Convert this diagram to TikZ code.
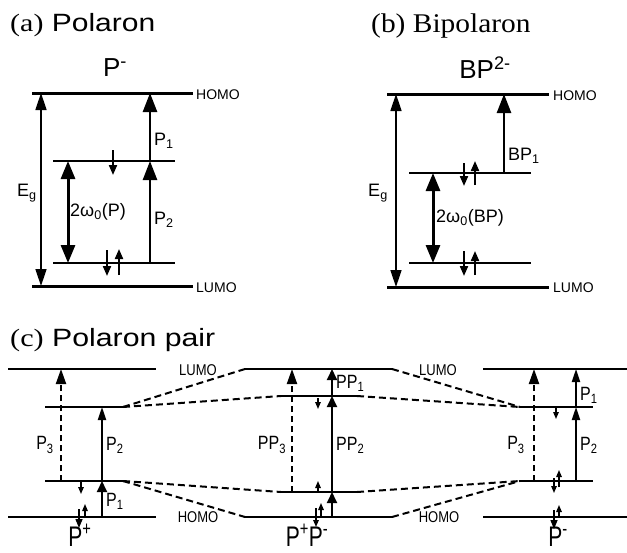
\documentclass[tikz,border=0pt]{standalone}
\usepackage{graphicx}
\usepackage{fontspec}
\setmainfont{Liberation Sans}
\newfontfamily\serifpart{Liberation Serif}
\usetikzlibrary{arrows.meta}
\newcommand\myhs[2]{\scalebox{#1}[1]{#2}}
\newcommand\myvs[2]{\scalebox{1}[#1]{#2}}
\begin{document}
\begin{tikzpicture}[x=1pt,y=-1pt,
 lvlA/.style={line width=3pt},
 lvlB/.style={line width=2pt},
 lvlC/.style={line width=2pt},
 egarrow/.style={line width=1.5pt,{Triangle[length=17pt,width=11pt]}-{Triangle[length=17pt,width=11pt]}},
 omarrow/.style={line width=3pt,{Triangle[length=18pt,width=14pt]}-{Triangle[length=18pt,width=14pt]}},
 parrow/.style={line width=2.5pt,-{Triangle[length=19pt,width=14pt]}},
 spin/.style={line width=2pt,-{Triangle[length=10pt,width=8pt]}},
 cspin/.style={line width=1.4pt,-{Triangle[length=7pt,width=5.5pt]}},
 carrow/.style={line width=2pt,-{Triangle[length=13pt,width=8pt]}},
 carrowS/.style={line width=2pt,-{Triangle[length=11pt,width=10pt]}},
 cdash/.style={line width=2pt,dash pattern=on 6pt off 4pt,-{Triangle[length=15pt,width=10pt]}},
 conn/.style={line width=2pt,dash pattern=on 7pt off 4pt},
 title/.style={font=\fontsize{25}{28}\selectfont, inner sep=0pt},
 state/.style={font=\fontsize{26}{28}\selectfont, inner sep=0pt, text depth=0pt},
 cstate/.style={font=\fontsize{21}{24}\selectfont, inner sep=0pt, text depth=0pt},
 lbl/.style={font=\fontsize{18}{20}\selectfont, inner sep=0pt},
 clbl/.style={font=\fontsize{16}{18}\selectfont, inner sep=0pt},
 orb/.style={font=\fontsize{14}{16}\selectfont, inner sep=0pt},
 corb/.style={font=\fontsize{13}{15}\selectfont, inner sep=0pt},
]
\useasboundingbox[fill=white] (0,0) rectangle (627,552);

% ---------------- (a) Polaron ----------------
\node[title,anchor=base west] (ta) at (10,31) {\myhs{1.2}{{\serifpart (a)} Polaron}};
\node[state] (sa) at (115,68) {P\textsuperscript{-}};
\coordinate (aH1) at (32,93);  \coordinate (aH2) at (193,93);
\coordinate (aL1) at (32,286); \coordinate (aL2) at (193,286);
\coordinate (aU1) at (53,161); \coordinate (aU2) at (175,161);
\coordinate (aD1) at (53,263); \coordinate (aD2) at (175,263);
\draw[lvlA] (aH1) -- (aH2);
\draw[lvlA] (aL1) -- (aL2);
\draw[lvlB] (aU1) -- (aU2);
\draw[lvlB,line width=2.5pt] (aD1) -- (aD2);
\node[orb,anchor=west] (aHl) at (196,95) {HOMO};
\node[orb,anchor=west] (aLl) at (196,288) {LUMO};
\coordinate (aEgB) at (41,286); \coordinate (aEgT) at (41,93);
\draw[egarrow] (aEgB) -- (aEgT);
\node[lbl] (aEg) at (27,193) {E\textsubscript{g}};
\coordinate (aOB) at (68,263); \coordinate (aOT) at (68,161);
\draw[omarrow] (aOB) -- (aOT);
\node[lbl,anchor=west] (aOl) at (70,212) {2ω\textsubscript{0}(P)};
\coordinate (aPB) at (150,263); \coordinate (aPM) at (150,161); \coordinate (aPT) at (150,93);
\draw[parrow] (aPB) -- (aPM);
\draw[parrow] (aPM) -- (aPT);
\node[lbl,anchor=west] (aP1) at (154,141) {P\textsubscript{1}};
\node[lbl,anchor=west] (aP2) at (154,220) {P\textsubscript{2}};
\coordinate (as1a) at (113,150); \coordinate (as1b) at (113,175);
\draw[spin] (as1a) -- (as1b);
\coordinate (as2a) at (107,250); \coordinate (as2b) at (107,276);
\draw[spin] (as2a) -- (as2b);
\coordinate (as3a) at (119,275); \coordinate (as3b) at (119,249);
\draw[spin] (as3a) -- (as3b);

% ---------------- (b) Bipolaron ----------------
\node[title,anchor=base west,font=\serifpart\fontsize{27}{30}\selectfont] (tb) at (371,32) {\myhs{1.09}{(b) Bipolaron}};
\node[state] (sb) at (485,68) {BP\textsuperscript{2-}};
\coordinate (bH1) at (387,94);  \coordinate (bH2) at (549,94);
\coordinate (bL1) at (387,287); \coordinate (bL2) at (549,287);
\coordinate (bU1) at (409,173); \coordinate (bU2) at (531,173);
\coordinate (bD1) at (409,263); \coordinate (bD2) at (531,263);
\draw[lvlA] (bH1) -- (bH2);
\draw[lvlA] (bL1) -- (bL2);
\draw[lvlB] (bU1) -- (bU2);
\draw[lvlB,line width=2.5pt] (bD1) -- (bD2);
\node[orb,anchor=west] (bHl) at (553,96) {HOMO};
\node[orb,anchor=west] (bLl) at (553,288) {LUMO};
\coordinate (bEgB) at (396,287); \coordinate (bEgT) at (396,94);
\draw[egarrow] (bEgB) -- (bEgT);
\node[lbl] (bEg) at (378,193) {E\textsubscript{g}};
\coordinate (bOB) at (433,263); \coordinate (bOT) at (433,173);
\draw[omarrow] (bOB) -- (bOT);
\node[lbl,anchor=west] (bOl) at (436,218) {2ω\textsubscript{0}(BP)};
\coordinate (bPB) at (504,173); \coordinate (bPT) at (504,94);
\draw[parrow] (bPB) -- (bPT);
\node[lbl,anchor=west] (bP1) at (508,156) {BP\textsubscript{1}};
\coordinate (bs1a) at (464,163); \coordinate (bs1b) at (464,186);
\draw[spin] (bs1a) -- (bs1b);
\coordinate (bs2a) at (475,185); \coordinate (bs2b) at (475,161);
\draw[spin] (bs2a) -- (bs2b);
\coordinate (bs3a) at (464,251); \coordinate (bs3b) at (464,276);
\draw[spin] (bs3a) -- (bs3b);
\coordinate (bs4a) at (475,275); \coordinate (bs4b) at (475,251);
\draw[spin] (bs4a) -- (bs4b);

% ---------------- (c) Polaron pair ----------------
\node[title,anchor=base west] (tc) at (10,346) {\myhs{1.21}{{\serifpart (c)} Polaron pair}};

% left column P+
\coordinate (lT1) at (8,369);   \coordinate (lT2) at (156,369);
\coordinate (lB1) at (8,517);   \coordinate (lB2) at (156,517);
\coordinate (lU1) at (45,407);  \coordinate (lU2) at (123,407);
\coordinate (lD1) at (45,481);  \coordinate (lD2) at (123,481);
\draw[lvlC,line width=2.5pt] (lT1) -- (lT2);
\draw[lvlC,line width=2.5pt] (lB1) -- (lB2);
\draw[lvlC] (lU1) -- (lU2);
\draw[lvlC] (lD1) -- (lD2);
\coordinate (l3B) at (61,481); \coordinate (l3T) at (61,369);
\draw[cdash] (l3B) -- (l3T);
\coordinate (l2B) at (102,481); \coordinate (l2T) at (102,407);
\draw[carrow] (l2B) -- (l2T);
\coordinate (l1B) at (102,517); \coordinate (l1T) at (102,481);
\draw[carrowS] (l1B) -- (l1T);
\node[clbl] (lP3) at (45,445) {\myvs{1.2}{P\textsubscript{3}}};
\node[clbl,anchor=west] (lP2) at (106,445) {\myvs{1.2}{P\textsubscript{2}}};
\node[clbl,anchor=west] (lP1) at (106,501) {\myvs{1.2}{P\textsubscript{1}}};
\coordinate (ls1a) at (81,482); \coordinate (ls1b) at (81,494);
\draw[cspin] (ls1a) -- (ls1b);
\coordinate (ls2a) at (79,509); \coordinate (ls2b) at (79,528);
\draw[cspin,-{Triangle[length=9pt,width=7pt]}] (ls2a) -- (ls2b);
\coordinate (ls3a) at (85,518); \coordinate (ls3b) at (85,504);
\draw[cspin] (ls3a) -- (ls3b);
\node[cstate,anchor=base] (sl) at (80,546) {\myvs{1.35}{P\textsuperscript{+}}};

% middle column P+P-
\coordinate (mT1) at (245,369); \coordinate (mT2) at (392,369);
\coordinate (mB1) at (245,517); \coordinate (mB2) at (392,517);
\coordinate (mU1) at (281,396); \coordinate (mU2) at (357,396);
\coordinate (mD1) at (281,492); \coordinate (mD2) at (357,492);
\draw[lvlC,line width=2.5pt] (mT1) -- (mT2);
\draw[lvlC] (mB1) -- (mB2);
\draw[lvlC] (mU1) -- (mU2);
\draw[lvlC] (mD1) -- (mD2);
\coordinate (m3B) at (292,492); \coordinate (m3T) at (292,369);
\draw[cdash] (m3B) -- (m3T);
\coordinate (mA0) at (332,517); \coordinate (mA1) at (332,492);
\coordinate (mA2) at (332,396); \coordinate (mA3) at (332,369);
\draw[carrowS] (mA0) -- (mA1);
\draw[carrowS] (mA1) -- (mA2);
\draw[carrowS] (mA2) -- (mA3);
\node[clbl] (mP3) at (272,445) {\myvs{1.2}{PP\textsubscript{3}}};
\node[clbl,anchor=west] (mP2) at (336,445) {\myvs{1.2}{PP\textsubscript{2}}};
\node[clbl,anchor=west] (mP1) at (336,383) {\myvs{1.2}{PP\textsubscript{1}}};
\coordinate (ms1a) at (318,398); \coordinate (ms1b) at (318,409);
\draw[cspin] (ms1a) -- (ms1b);
\coordinate (ms2a) at (318,492); \coordinate (ms2b) at (318,481);
\draw[cspin] (ms2a) -- (ms2b);
\coordinate (ms3a) at (316,508); \coordinate (ms3b) at (316,527);
\draw[cspin] (ms3a) -- (ms3b);
\coordinate (ms4a) at (321,516); \coordinate (ms4b) at (321,503);
\draw[cspin] (ms4a) -- (ms4b);
\node[cstate,anchor=base] (sm) at (307,546) {\myvs{1.35}{P\textsuperscript{+}P\textsuperscript{-}}};

% right column P-
\coordinate (rT1) at (483,369); \coordinate (rT2) at (627,369);
\coordinate (rB1) at (483,517); \coordinate (rB2) at (627,517);
\coordinate (rU1) at (520,407); \coordinate (rU2) at (593,407);
\coordinate (rD1) at (520,481); \coordinate (rD2) at (593,481);
\draw[lvlC,line width=2.5pt] (rT1) -- (rT2);
\draw[lvlC,line width=2.5pt] (rB1) -- (rB2);
\draw[lvlC] (rU1) -- (rU2);
\draw[lvlC] (rD1) -- (rD2);
\coordinate (r3B) at (534,481); \coordinate (r3T) at (534,369);
\draw[cdash] (r3B) -- (r3T);
\coordinate (r2B) at (576,481); \coordinate (r2M) at (576,407); \coordinate (r2T) at (576,369);
\draw[carrow] (r2B) -- (r2M);
\draw[carrow] (r2M) -- (r2T);
\node[clbl] (rP3) at (516,445) {\myvs{1.2}{P\textsubscript{3}}};
\node[clbl,anchor=west] (rP2) at (580,445) {\myvs{1.2}{P\textsubscript{2}}};
\node[clbl,anchor=west] (rP1) at (580,395) {\myvs{1.2}{P\textsubscript{1}}};
\coordinate (rs1a) at (556,407); \coordinate (rs1b) at (556,419);
\draw[cspin] (rs1a) -- (rs1b);
\coordinate (rs2a) at (554,478); \coordinate (rs2b) at (554,493);
\draw[cspin] (rs2a) -- (rs2b);
\coordinate (rs3a) at (559,487); \coordinate (rs3b) at (559,470);
\draw[cspin] (rs3a) -- (rs3b);
\coordinate (rs4a) at (554,510); \coordinate (rs4b) at (554,529);
\draw[cspin,-{Triangle[length=9pt,width=7pt]}] (rs4a) -- (rs4b);
\coordinate (rs5a) at (559,517); \coordinate (rs5b) at (559,505);
\draw[cspin] (rs5a) -- (rs5b);
\node[cstate,anchor=base] (sr) at (558,546) {\myvs{1.35}{P\textsuperscript{-}}};

% dashed correlation lines
\draw[conn] (lU2) -- (mT1);
\draw[conn] (lU2) -- (mU1);
\draw[conn] (lD2) -- (mD1);
\draw[conn] (lD2) -- (mB1);
\draw[conn] (mT2) -- (rU1);
\draw[conn] (mU2) -- (rU1);
\draw[conn] (mD2) -- (rD1);
\draw[conn] (mB2) -- (rD1);
\node[corb] (cL1) at (198,370) {\myvs{1.2}{LUMO}};
\node[corb] (cH1) at (198,517) {\myvs{1.2}{HOMO}};
\node[corb] (cL2) at (438,370) {\myvs{1.2}{LUMO}};
\node[corb] (cH2) at (439,517) {\myvs{1.2}{HOMO}};
\end{tikzpicture}
\end{document}
